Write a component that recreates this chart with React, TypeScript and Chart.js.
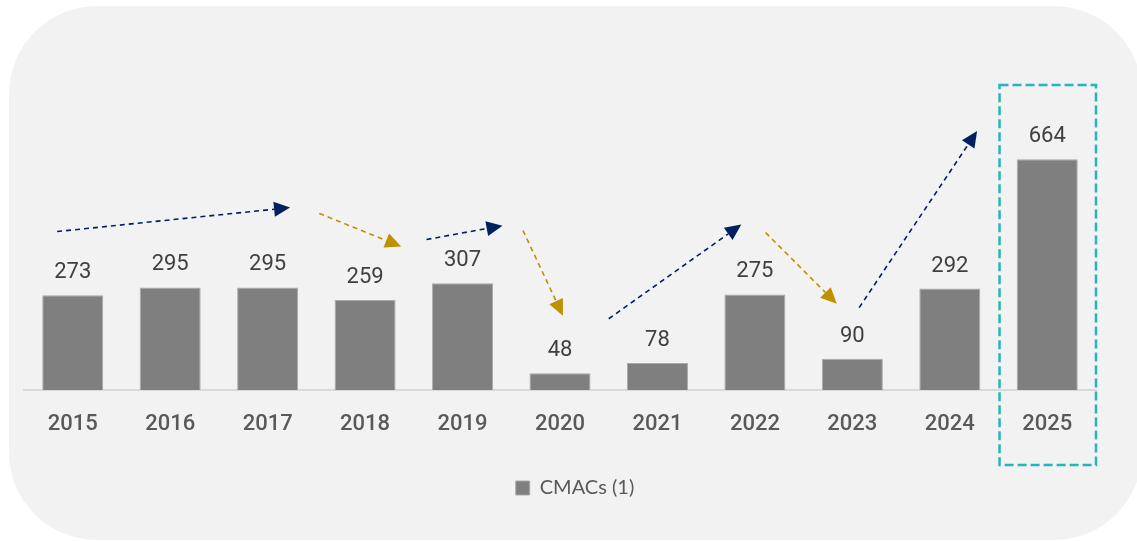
import React, { useEffect, useRef } from "react";
import { Chart, registerables } from "chart.js";

Chart.register(...registerables);

const categories = ["2015", "2016", "2017", "2018", "2019", "2020", "2021", "2022", "2023", "2024", "2025"];
const values = [273, 295, 295, 259, 307, 48, 78, 275, 90, 292, 664];
const seriesName = "CMACs (1)";

const NAVY = "#002060";
const GOLD = "#BF9000";

// arrows in data coordinates: [category index, value]
const arrowFrom = [
  [-0.16, 456], [2.53, 508], [3.63, 433], [4.62, 459], [5.5, 205], [7.11, 453], [8.07, 237],
];
const arrowTo = [
  [2.23, 525], [3.37, 413], [4.41, 473], [5.03, 214], [6.86, 476], [7.84, 248], [9.28, 745],
];
const arrowColors = [NAVY, GOLD, NAVY, GOLD, NAVY, GOLD, NAVY];

// highlight box around last category: [x start, x end] in category units, [top, bottom] in value units
const highlightX = [9.5, 10.5];
const highlightY = [878, -216];

const decorPlugin = {
  id: "decor",
  afterLayout(chart: any) {
    if (chart.legend) {
      chart.legend.left += 15;
      chart.legend.right += 15;
    }
  },
  beforeDraw(chart: any) {
    const ctx = chart.ctx;
    ctx.save();
    ctx.fillStyle = "#f2f2f2";
    ctx.beginPath();
    (ctx as any).roundRect(9, 6, 1133, 534, 88);
    ctx.fill();
    ctx.restore();
  },
  afterDatasetsDraw(chart: any) {
    const ctx = chart.ctx;
    const xs = chart.scales.x;
    const ys = chart.scales.y;
    const meta = chart.getDatasetMeta(0);
    ctx.save();
    // value labels
    ctx.font = "400 22px Roboto";
    ctx.fillStyle = "#404040";
    ctx.textAlign = "center";
    ctx.textBaseline = "alphabetic";
    meta.data.forEach((bar: any, i: number) => {
      ctx.fillText(String(values[i]), bar.x, bar.y - 17);
    });
    // arrows
    arrowFrom.forEach((f, i) => {
      const t = arrowTo[i];
      const x1 = xs.getPixelForValue(f[0]);
      const y1 = ys.getPixelForValue(f[1]);
      const x2 = xs.getPixelForValue(t[0]);
      const y2 = ys.getPixelForValue(t[1]);
      const ang = Math.atan2(y2 - y1, x2 - x1);
      const headLen = 16;
      const headW = 7.5;
      const bx = x2 - headLen * Math.cos(ang);
      const by = y2 - headLen * Math.sin(ang);
      ctx.strokeStyle = arrowColors[i];
      ctx.fillStyle = arrowColors[i];
      ctx.lineWidth = 1.6;
      ctx.setLineDash([5, 4]);
      ctx.beginPath();
      ctx.moveTo(x1, y1);
      ctx.lineTo(bx, by);
      ctx.stroke();
      ctx.setLineDash([]);
      ctx.beginPath();
      ctx.moveTo(x2, y2);
      ctx.lineTo(bx + headW * Math.sin(ang), by - headW * Math.cos(ang));
      ctx.lineTo(bx - headW * Math.sin(ang), by + headW * Math.cos(ang));
      ctx.closePath();
      ctx.fill();
    });
    // highlight box
    const hx1 = xs.getPixelForValue(highlightX[0]);
    const hx2 = xs.getPixelForValue(highlightX[1]);
    const hy1 = ys.getPixelForValue(highlightY[0]);
    const hy2 = ys.getPixelForValue(highlightY[1]);
    ctx.strokeStyle = "#26b5b8";
    ctx.lineWidth = 2.5;
    ctx.setLineDash([9, 4]);
    ctx.strokeRect(hx1 + 1, hy1, hx2 - hx1 - 1, hy2 - hy1);
    ctx.restore();
  },
};

export default function App() {
  const ref = useRef<HTMLCanvasElement>(null);
  useEffect(() => {
    if (!ref.current) return;
    const chart = new Chart(ref.current, {
      type: "bar",
      data: {
        labels: categories,
        datasets: [
          {
            label: seriesName,
            data: values,
            backgroundColor: "#7f7f7f",
            borderColor: "#a9a9a9",
            borderWidth: 1,
            categoryPercentage: 1,
            barPercentage: 0.626,
          },
        ],
      },
      options: {
        animation: false,
        responsive: false,
        maintainAspectRatio: false,
        layout: { padding: { left: 24, right: 41, top: 112, bottom: 33 } },
        plugins: {
          tooltip: { enabled: false },
          legend: {
            position: "bottom",
            labels: {
              boxWidth: 14,
              boxHeight: 14,
              color: "#595959",
              font: { family: "Lato", size: 20 },
              padding: 10,
            },
          },
        },
        scales: {
          x: {
            grid: { display: false, drawTicks: false },
            border: { display: true, color: "#d9d9d9", width: 2 },
            ticks: {
              color: "#595959",
              font: { family: "Roboto", size: 22, weight: "500" },
              padding: 21,
            },
            afterFit: (scale: any) => {
              scale.height = 78;
            },
          },
          y: {
            display: false,
            min: 0,
            max: 800,
            grid: { display: false },
          },
        },
      },
      plugins: [decorPlugin],
    });
    return () => chart.destroy();
  }, []);
  return (
    <div style={{ position: "fixed", left: 0, top: 0, width: 1137, height: 541 }}>
      <canvas ref={ref} width={1137} height={541} style={{ width: 1137, height: 541 }} />
    </div>
  );
}
